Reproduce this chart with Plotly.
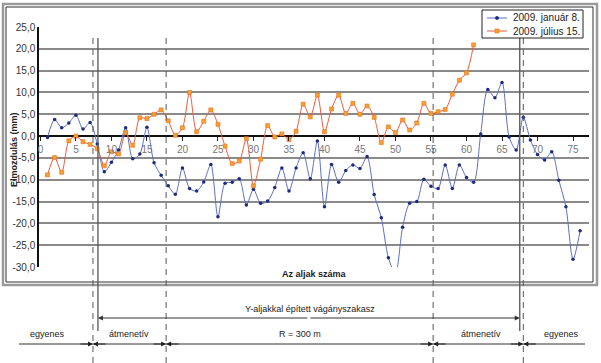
import plotly.graph_objects as go

# ---- data ----
x_jan = list(range(1, 77))
y_jan = [-0.3, 3.8, 1.9, 3.0, 4.8, 1.6, 3.1, -1.8, -8.2, -6.0,
         -3.2, 1.9, -5.2, -4.1, 2.0, -6.1, -9.0, -11.4, -13.3, -7.3,
         -12.0, -12.6, -10.5, -6.5, -18.5, -10.8, -10.6, -9.8, -15.8, -12.2,
         -15.4, -14.9, -11.8, -7.3, -12.6, -7.3, -3.8, -9.8, -1.1, -16.2,
         -6.5, -10.6, -7.9, -6.6, -7.4, -4.7, -13.4, -18.7, -27.9, -31.5,
         -20.9, -15.4, -15.0, -9.9, -11.5, -12.0, -6.6, -12.0, -6.6, -9.5,
         -10.6, 0.5, 10.7, 8.8, 12.3, -0.2, -3.2, 4.3, -0.9, -4.2,
         -5.5, -3.6, -10.1, -16.2, -28.2, -21.7]

x_jul = list(range(1, 62))
y_jul = [-8.9, -4.9, -8.3, -1.1, 0.0, -1.3, -1.9, -2.9, -6.8, -3.6,
         -4.1, 0.8, -2.1, 4.2, 4.0, 5.0, 6.0, 3.5, 0.2, 1.9,
         10.0, 1.0, 3.4, 6.0, 2.7, -2.3, -6.3, -5.7, -0.6, -11.4,
         -5.3, 2.4, -0.2, 0.5, -0.8, 1.1, 7.3, 4.4, 9.4, 1.0,
         6.2, 9.4, 5.2, 7.5, 5.0, 6.9, 4.3, -1.5, 2.1, 0.8,
         3.7, 1.4, 3.0, 7.5, 5.2, 5.6, 6.1, 9.6, 12.8, 14.5,
         20.9]

series_names = ["2009. január 8.", "2009. július 15."]

y_ticks = [25, 20, 15, 10, 5, 0, -5, -10, -15, -20, -25, -30]
y_tick_labels = ["25,0", "20,0", "15,0", "10,0", "5,0", "0,0", "-5,0",
                 "-10,0", "-15,0", "-20,0", "-25,0", "-30,0"]
x_ticks = list(range(0, 80, 5))

# section boundaries (sleeper numbers)
section_bounds = [7.4, 17.7, 55.3, 68.0]       # dashed
y_sleeper_bounds = [8.1, 67.5]                  # solid
section_labels = ["egyenes", "átmenetív", "R = 300 m", "átmenetív", "egyenes"]
section_label_px = [47, 129, 300, 481, 561]
y_section_label = "Y-aljakkal épített vágányszakasz"

# ---- geometry helpers ----
W_FIG, H_FIG = 601, 363
L, R, T, B = 39, 589, 27, 267
PW, PH = R - L, B - T
X0, X1 = -0.2, 77.25


def px2x(px):
    return (px - L) / PW


def py2y(py):
    return (B - py) / PH


def d2px(xd):
    return L + (xd - X0) / (X1 - X0) * PW


FONT = "Liberation Sans, Arial, sans-serif"
BLUE_LINE, BLUE_MK = "#5a6fc4", "#1c2a80"
ORG_LINE, ORG_MK, ORG_MK_EDGE = "#f0583c", "#f7a030", "#e8701c"

fig = go.Figure()
fig.add_trace(go.Scatter(
    x=x_jan, y=y_jan, name=series_names[0], mode="lines+markers",
    line=dict(color=BLUE_LINE, width=1, shape="spline", smoothing=0.8),
    marker=dict(symbol="circle", size=3.5, color=BLUE_MK),
    showlegend=False,
))
fig.add_trace(go.Scatter(
    x=x_jul, y=y_jul, name=series_names[1], mode="lines+markers",
    line=dict(color=ORG_LINE, width=1, shape="spline", smoothing=0.8),
    marker=dict(symbol="square", size=4, color=ORG_MK,
                line=dict(color=ORG_MK_EDGE, width=0.6)),
    showlegend=False,
))

shapes = []
annotations = []


def text(label, px, py, size=9, bold=False, angle=0, xanchor="center"):
    annotations.append(dict(text=f"<b>{label}</b>" if bold else label,
                            xref="paper", yref="paper", x=px2x(px), y=py2y(py),
                            xanchor=xanchor, yanchor="middle", textangle=angle,
                            showarrow=False,
                            font=dict(size=size, color="#222222", family=FONT)))


# outer double frame
shapes.append(dict(type="rect", xref="paper", yref="paper",
                   x0=px2x(3), x1=px2x(597), y0=py2y(285), y1=py2y(4),
                   line=dict(color="#9a9a9a", width=2.5), layer="below"))
shapes.append(dict(type="rect", xref="paper", yref="paper",
                   x0=px2x(6), x1=px2x(593), y0=py2y(282), y1=py2y(7),
                   line=dict(color="#333333", width=1), layer="below"))
# dashed section boundaries
for b in section_bounds:
    shapes.append(dict(type="line", xref="x", yref="paper", x0=b, x1=b,
                       y0=py2y(38), y1=py2y(363),
                       line=dict(color="#555555", width=1, dash="6px,5px")))
# solid Y-sleeper boundaries
for b in y_sleeper_bounds:
    shapes.append(dict(type="line", xref="x", yref="paper", x0=b, x1=b,
                       y0=py2y(38), y1=py2y(331),
                       line=dict(color="#555555", width=1.3)))
# bottom dimension line
shapes.append(dict(type="line", xref="paper", yref="paper",
                   x0=px2x(19), x1=px2x(585), y0=py2y(344), y1=py2y(344),
                   line=dict(color="#333333", width=1)))

# ---- legend (drawn) ----
shapes.append(dict(type="rect", xref="paper", yref="paper",
                   x0=px2x(482), x1=px2x(583), y0=py2y(38), y1=py2y(10),
                   line=dict(color="#222222", width=1), fillcolor="white"))
leg_rows = [18, 31]
for i, (row, name) in enumerate(zip(leg_rows, series_names)):
    lc = BLUE_LINE if i == 0 else ORG_LINE
    shapes.append(dict(type="line", xref="paper", yref="paper",
                       x0=px2x(487), x1=px2x(507), y0=py2y(row), y1=py2y(row),
                       line=dict(color=lc, width=1)))
    if i == 0:
        shapes.append(dict(type="circle", xref="paper", yref="paper",
                           x0=px2x(495.3), x1=px2x(498.7),
                           y0=py2y(row + 1.7), y1=py2y(row - 1.7),
                           line=dict(color=BLUE_MK, width=0.5), fillcolor=BLUE_MK))
    else:
        shapes.append(dict(type="rect", xref="paper", yref="paper",
                           x0=px2x(495), x1=px2x(499),
                           y0=py2y(row + 2), y1=py2y(row - 2),
                           line=dict(color=ORG_MK_EDGE, width=0.6), fillcolor=ORG_MK))
    text(name, 511, row, size=10, xanchor="left")

# axis titles
text("Elmozdulás (mm)", 14, 150, bold=True, angle=-90)
text("Az aljak száma", 314, 274, bold=True)

# Y section arrow line
ya = py2y(318)
xa0, xa1 = y_sleeper_bounds
mid_px = (d2px(xa0) + d2px(xa1)) / 2
for xe in (xa0, xa1):
    annotations.append(dict(x=xe, y=ya, xref="x", yref="paper", text="",
                            showarrow=True, arrowhead=2, arrowsize=1, arrowwidth=1,
                            arrowcolor="#333333", ax=mid_px - d2px(xe), ay=0))
text(y_section_label, 310, 309)

# dimension arrows at section bounds
for b in section_bounds:
    for off in (-14, 14):
        annotations.append(dict(x=b, y=py2y(344), xref="x", yref="paper", text="",
                                showarrow=True, arrowhead=2, arrowsize=1,
                                arrowwidth=1, arrowcolor="#222222",
                                ax=off, ay=0))
for lab, px in zip(section_labels, section_label_px):
    text(lab, px, 334)

fig.update_layout(
    width=W_FIG, height=H_FIG,
    margin=dict(l=L, r=W_FIG - R, t=T, b=H_FIG - B, pad=0, autoexpand=False),
    paper_bgcolor="white", plot_bgcolor="white",
    font=dict(family=FONT, size=10, color="#333333"),
    showlegend=False,
    shapes=shapes, annotations=annotations,
    xaxis=dict(range=[X0, X1], anchor="free", position=30 / 55,
               tickvals=x_ticks, ticks="outside", ticklen=4, tickcolor="#222222",
               tickfont=dict(size=10, color="#777777"),
               showgrid=False, showline=False, zeroline=False),
    yaxis=dict(range=[-30, 25], tickvals=y_ticks, ticktext=y_tick_labels,
               showgrid=True, gridcolor="#8a8a8a", gridwidth=1.5,
               zeroline=True, zerolinecolor="#111111", zerolinewidth=1.5,
               showline=True, linecolor="#111111", linewidth=1.5,
               ticks="", tickfont=dict(size=10, color="#333333")),
)

fig.write_html("out.html", config={"displayModeBar": False},
               post_script="document.body.style.margin='0';document.body.style.padding='0';")
